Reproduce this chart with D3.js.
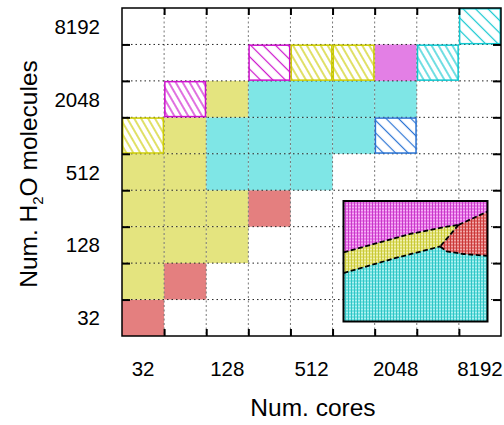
<!DOCTYPE html>
<html><head><meta charset="utf-8">
<script src="https://cdn.jsdelivr.net/npm/d3@7"></script>
<style>
html,body{margin:0;padding:0;background:#fff;}
svg text{font-family:"Liberation Sans",Arial,sans-serif;fill:#000;}
</style></head>
<body><svg id="c" width="504" height="425"></svg>
<script>
// ---- data ----
const cores = [32,64,128,256,512,1024,2048,4096,8192];
const molecules = [32,64,128,256,512,1024,2048,4096,8192];
const coreTickLabels = [32,128,512,2048,8192];
const moleculeTickLabels = [32,128,512,2048,8192];

const cellCores = [32, 32,64, 32,64,128, 32,64,128,256, 32,64,128,256,512,
  32,64,128,256,512,1024,2048, 64,128,256,512,1024,2048, 256,512,1024,2048,4096, 8192];
const cellMolecules = [32, 64,64, 128,128,128, 256,256,256,256, 512,512,512,512,512,
  1024,1024,1024,1024,1024,1024,1024, 2048,2048,2048,2048,2048,2048, 4096,4096,4096,4096,4096, 8192];
const cellMethod = ["red", "yellow","red", "yellow","yellow","yellow", "yellow","yellow","yellow","red",
  "yellow","yellow","cyan","cyan","cyan",
  "yellow","yellow","cyan","cyan","cyan","cyan","blue",
  "magenta","yellow","cyan","cyan","cyan","cyan",
  "magenta","yellow","yellow","magenta","cyan", "cyan"];
const cellFill = ["solid", "solid","solid", "solid","solid","solid", "solid","solid","solid","solid",
  "solid","solid","solid","solid","solid",
  "dense","solid","solid","solid","solid","solid","sparse",
  "dense","solid","solid","solid","solid","solid",
  "sparse","dense","dense","solid","dense", "sparse"];

// inset region boundaries (normalized inset coordinates)
const insetUpper = [[0,0.427],[0.231,0.350],[0.463,0.273],[0.694,0.218],[0.799,0.198]];
const insetRedTop = [[0.799,0.198],[0.9,0.143],[1,0.088]];
const insetRedLeft = [[0.799,0.198],[0.671,0.377]];
const insetLower = [[0,0.598],[0.347,0.478],[0.671,0.377]];
const insetRedBottom = [[0.671,0.377],[0.718,0.419],[0.833,0.440],[1,0.455]];

// ---- styles ----
const solidColor = {red:"#e47f7f", yellow:"#e4e47f", cyan:"#7fe6e6", magenta:"#e37fe5", blue:"#4a8fe0"};
const lineColor = {red:"#d03030", yellow:"#cccc00", cyan:"#10c8d0", magenta:"#cc10cc", blue:"#2a74d4"};
const insetColors = {
  magenta:{base:"#e878e8", dark:"#c838c8", light:"#f4b0f4"},
  yellow:{base:"#e2e276", dark:"#c8c838", light:"#f0f0b0"},
  red:{base:"#e27070", dark:"#c83838", light:"#f0a8a8"},
  cyan:{base:"#74e2e2", dark:"#30c4c4", light:"#b0f0f0"}
};

const L=122, R=501, T=8, B=336;
const x = d3.scaleLog().base(2).domain([32/Math.SQRT2, 8192*Math.SQRT2]).range([L,R]);
const y = d3.scaleLog().base(2).domain([32/Math.SQRT2, 8192*Math.SQRT2]).range([B,T]);
const edges = cores.slice(0,-1).map(v=>v*Math.SQRT2);
const hw = v => [x(v/Math.SQRT2), x(v*Math.SQRT2)];
const hh = v => [y(v*Math.SQRT2), y(v/Math.SQRT2)];

const svg = d3.select("#c");
const defs = svg.append("defs");

// hatch patterns
Object.keys(lineColor).forEach(m=>{
  [["dense",6,-30],["sparse",8.8,-45]].forEach(([k,w,ang])=>{
    const p = defs.append("pattern").attr("id",`h-${m}-${k}`)
      .attr("patternUnits","userSpaceOnUse").attr("width",w).attr("height",20)
      .attr("patternTransform",`rotate(${ang})`);
    p.append("rect").attr("width",w).attr("height",20).attr("fill","#fff");
    p.append("line").attr("x1",w/2).attr("x2",w/2).attr("y1",0).attr("y2",20)
      .attr("stroke",lineColor[m]).attr("stroke-width",1.2);
  });
});
// inset textures
Object.keys(insetColors).forEach(m=>{
  const c = insetColors[m];
  const p = defs.append("pattern").attr("id",`t-${m}`)
    .attr("patternUnits","userSpaceOnUse").attr("width",3).attr("height",3);
  p.append("rect").attr("width",3).attr("height",3).attr("fill",c.base);
  p.append("rect").attr("width",3).attr("height",1).attr("fill",c.light);
  p.append("rect").attr("width",1).attr("height",3).attr("fill",c.dark);
});

const cells = cellCores.map((c,i)=>({c, m:cellMolecules[i], method:cellMethod[i], fill:cellFill[i]}));

// cell fills
svg.append("g").selectAll("rect").data(cells).join("rect")
  .attr("x",d=>hw(d.c)[0]).attr("width",d=>hw(d.c)[1]-hw(d.c)[0])
  .attr("y",d=>hh(d.m)[0]).attr("height",d=>hh(d.m)[1]-hh(d.m)[0])
  .attr("fill",d=>d.fill==="solid"?solidColor[d.method]:`url(#h-${d.method}-${d.fill})`);

// grid
const g = svg.append("g");
g.selectAll("line.v").data(edges).join("line").attr("class","v")
  .attr("x1",d=>x(d)).attr("x2",d=>x(d)).attr("y1",T).attr("y2",B)
  .attr("stroke","#777").attr("stroke-width",1).attr("stroke-dasharray","2,2.5");
g.selectAll("line.h").data(edges).join("line").attr("class","h")
  .attr("y1",d=>y(d)).attr("y2",d=>y(d)).attr("x1",L).attr("x2",R)
  .attr("stroke","#222").attr("stroke-width",1).attr("stroke-dasharray","1.5,3");

// hatched cell borders
svg.append("g").selectAll("rect").data(cells.filter(d=>d.fill!=="solid")).join("rect")
  .attr("x",d=>hw(d.c)[0]+0.75).attr("width",d=>hw(d.c)[1]-hw(d.c)[0]-1.5)
  .attr("y",d=>hh(d.m)[0]+0.75).attr("height",d=>hh(d.m)[1]-hh(d.m)[0]-1.5)
  .attr("fill","none").attr("stroke",d=>lineColor[d.method]).attr("stroke-width",1.5);

// ticks (inward) via d3 axes
const tk = (ax)=>ax.tickValues(edges).tickFormat("").tickSizeOuter(0);
svg.append("g").attr("transform",`translate(${L},0)`).call(tk(d3.axisLeft(y)).tickSizeInner(-8));
svg.append("g").attr("transform",`translate(${R},0)`).call(tk(d3.axisRight(y)).tickSizeInner(-8));
svg.append("g").attr("transform",`translate(0,${B})`).call(tk(d3.axisBottom(x)).tickSizeInner(-7));
svg.append("g").attr("transform",`translate(0,${T})`).call(tk(d3.axisTop(x)).tickSizeInner(-7));
svg.selectAll(".domain").remove();
svg.selectAll(".tick line").attr("stroke","#000").attr("stroke-width",2);

// frame
svg.append("rect").attr("x",L).attr("y",T).attr("width",R-L).attr("height",B-T)
  .attr("fill","none").attr("stroke","#000").attr("stroke-width",1.5);

// inset
const xi = d3.scaleLinear().domain([0,1]).range([343.5,487.5]);
const yi = d3.scaleLinear().domain([0,1]).range([201,321.5]);
const line = d3.line().x(d=>xi(d[0])).y(d=>yi(d[1]));
const ins = svg.append("g");
ins.append("rect").attr("x",xi(0)).attr("y",yi(0)).attr("width",xi(1)-xi(0)).attr("height",yi(1)-yi(0))
  .attr("fill","url(#t-cyan)");
const rev = a=>a.slice().reverse();
const polyMag = [[0,0],[1,0],...rev(insetRedTop),...rev(insetUpper).slice(1)];
const polyYel = [...insetUpper, ...insetRedLeft.slice(1), ...rev(insetLower).slice(1)];
const polyRed = [...insetRedTop, ...rev(insetRedBottom)];
[[polyMag,"magenta"],[polyYel,"yellow"],[polyRed,"red"]].forEach(([p,m])=>{
  ins.append("path").attr("d",line(p)+"Z").attr("fill",`url(#t-${m})`);
});
[insetUpper,insetRedTop,insetRedLeft,insetLower,insetRedBottom].forEach(p=>{
  ins.append("path").attr("d",line(p)).attr("fill","none").attr("stroke","#000")
    .attr("stroke-width",1.8).attr("stroke-dasharray","5,2.5");
});
ins.append("rect").attr("x",xi(0)).attr("y",yi(0)).attr("width",xi(1)-xi(0)).attr("height",yi(1)-yi(0))
  .attr("fill","none").attr("stroke","#000").attr("stroke-width",2);

// tick labels
svg.append("g").selectAll("text").data(coreTickLabels).join("text")
  .attr("x",d=>x(d)).attr("y",376)
  .attr("text-anchor","middle").attr("font-size",20.5).text(d=>d);
svg.append("g").selectAll("text").data(moleculeTickLabels).join("text")
  .attr("x",100).attr("y",d=>y(d)+7.5)
  .attr("text-anchor","end").attr("font-size",20.5).text(d=>d);

// axis titles
svg.append("text").attr("x",313).attr("y",416)
  .attr("text-anchor","middle").attr("font-size",24.5).text("Num. cores");
const yt = svg.append("text").attr("transform","translate(37,174) rotate(-90)")
  .attr("text-anchor","middle").attr("font-size",24.5);
yt.append("tspan").text("Num. H");
yt.append("tspan").attr("font-size",15).attr("dy",6).text("2");
yt.append("tspan").attr("dy",-6).text("O molecules");
</script></body></html>
